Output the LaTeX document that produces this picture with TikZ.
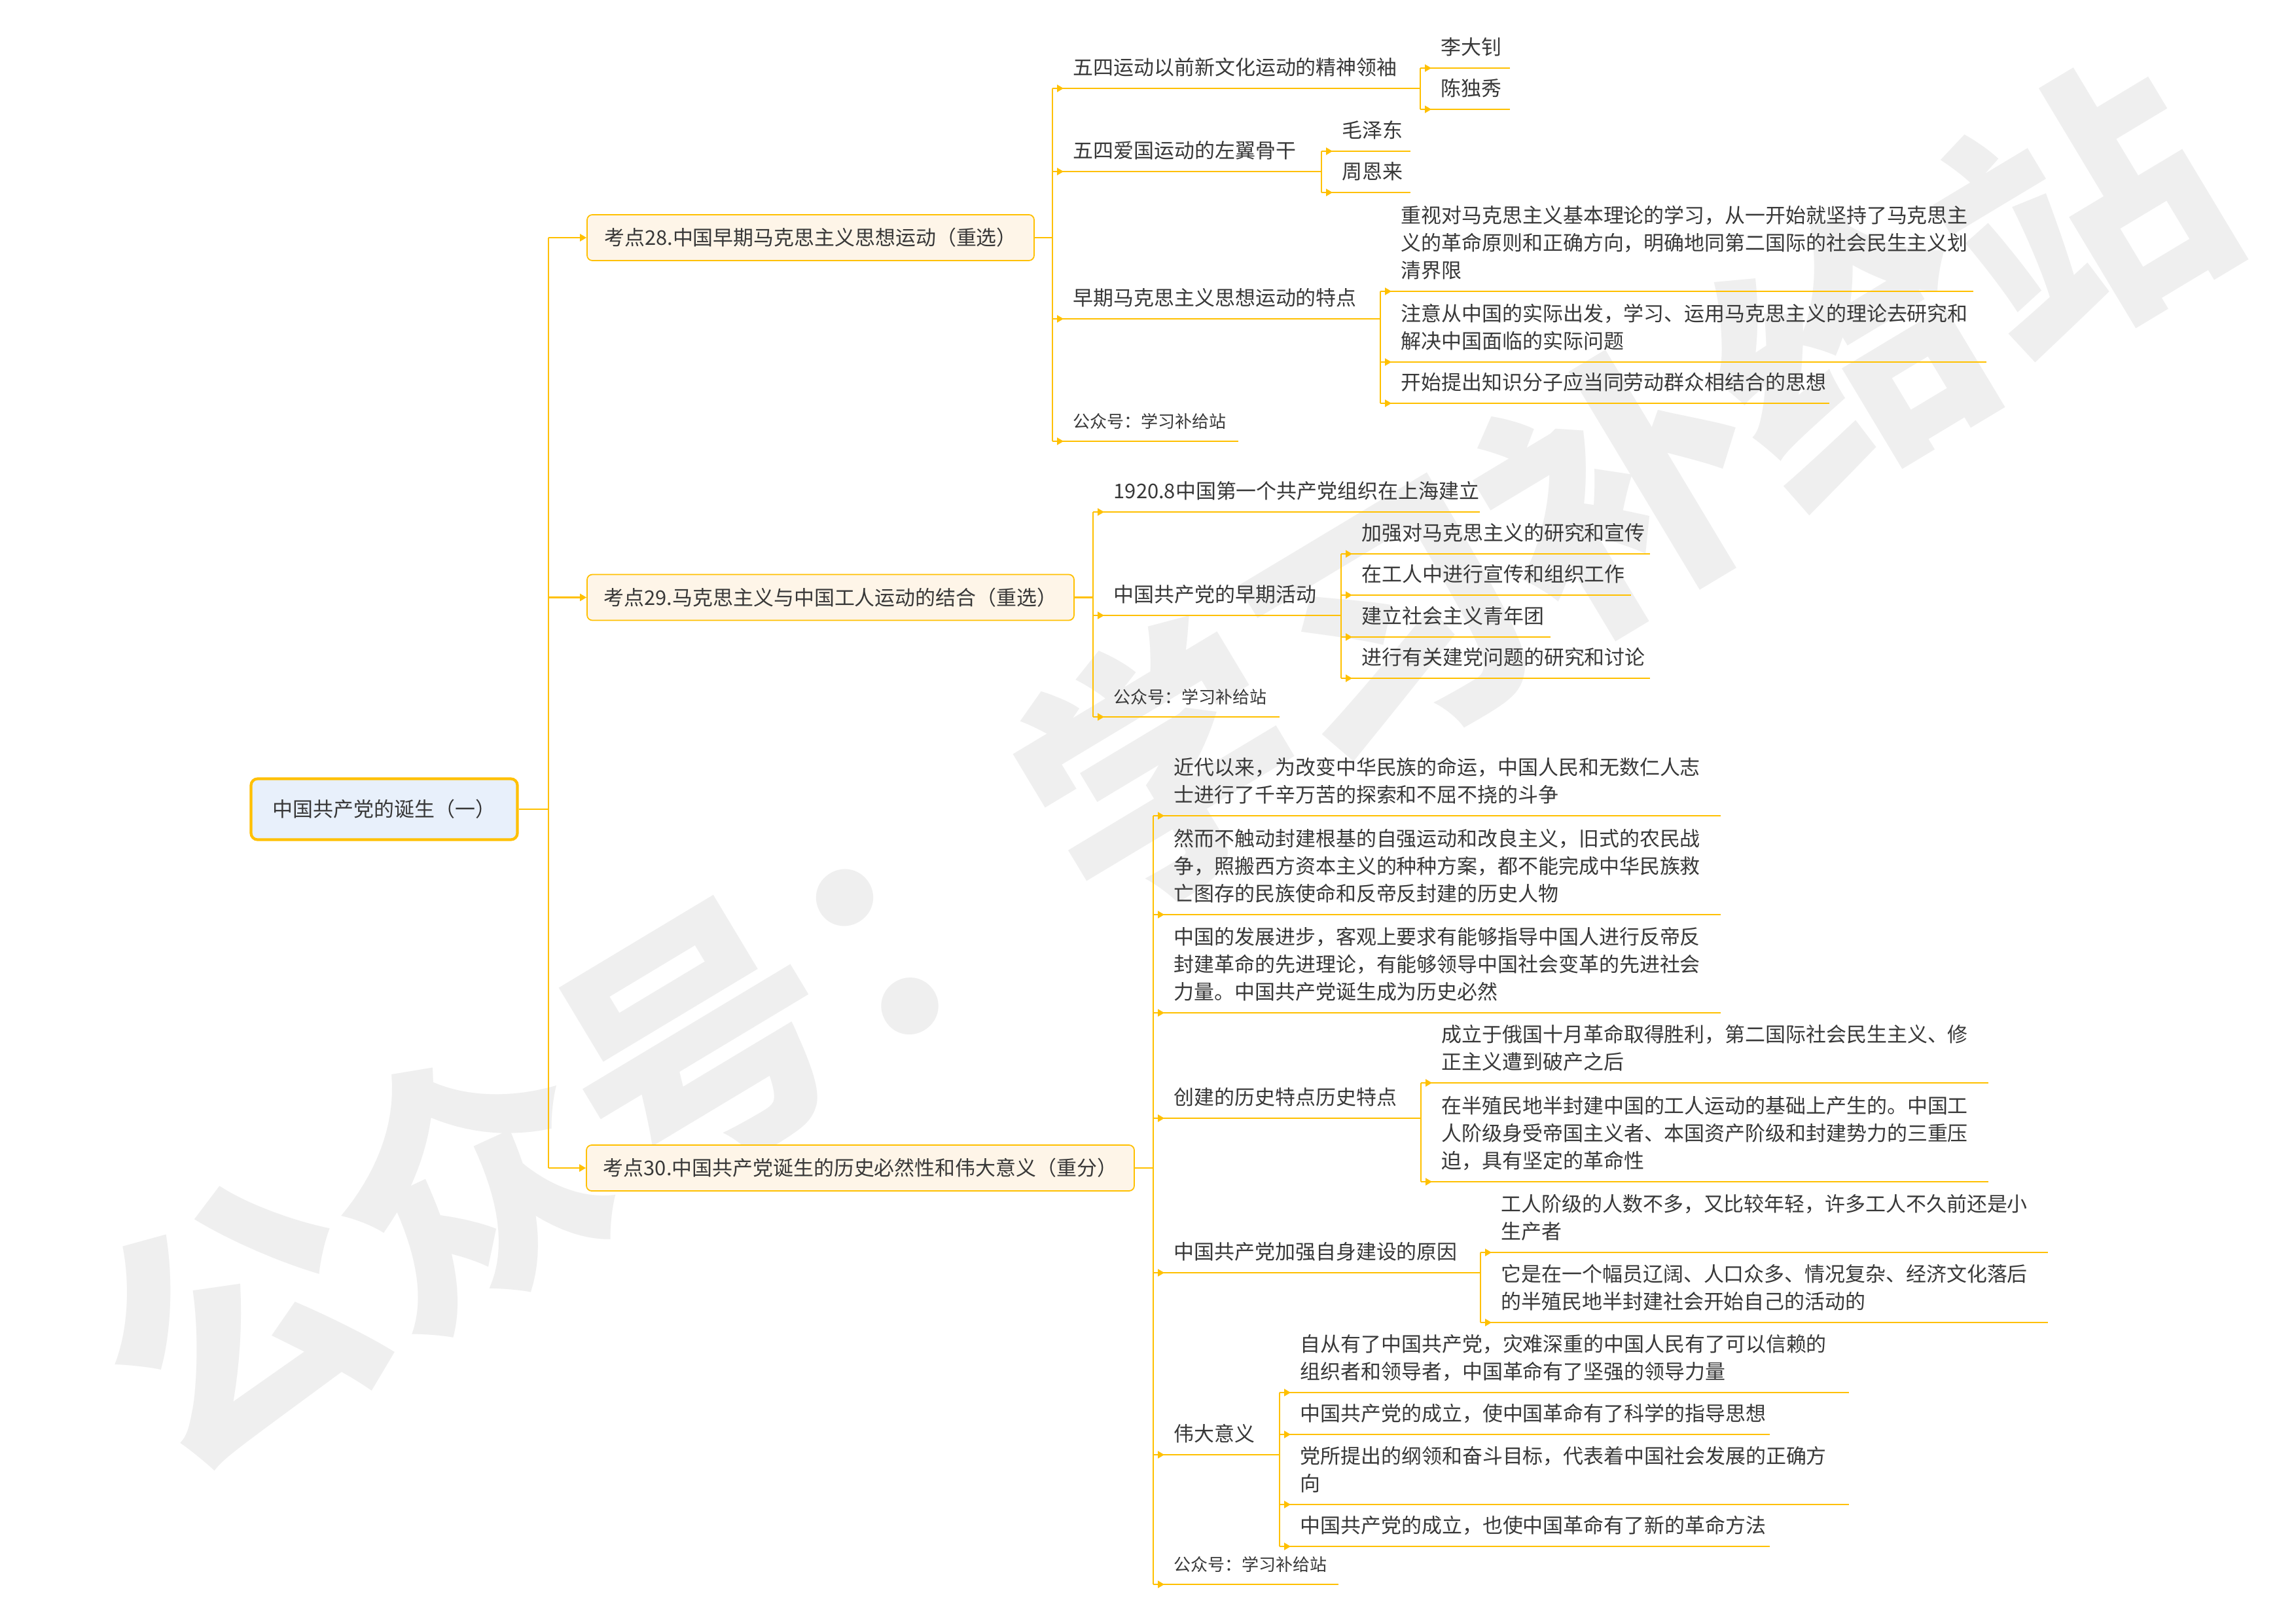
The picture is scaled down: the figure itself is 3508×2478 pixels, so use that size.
\documentclass[tikz,border=0pt]{standalone}
\usepackage{fontspec}
\setmainfont{Noto Sans CJK SC}
\usetikzlibrary{arrows.meta}
\definecolor{ln}{HTML}{FFC000}
\definecolor{tx}{HTML}{383838}
\definecolor{rootfill}{HTML}{E8F0FB}
\definecolor{boxfill}{HTML}{FEF5E8}
\definecolor{wm}{HTML}{EFEFEF}
\newcommand{\bodyfnt}{\fontsize{8.8pt}{11.9pt}\selectfont}
\newcommand{\smallfnt}{\fontsize{7.4pt}{11.9pt}\selectfont}
\newcommand{\uln}[1]{%
  \draw[uline] (#1.south west) -- (#1.south east);
  \draw[tipline] (#1.south west) -- ([xshift=1.7mm]#1.south west);}
\begin{document}
\begin{tikzpicture}[x=0.1mm,y=-0.1mm,
  leaf/.style={anchor=south west, inner xsep=0pt, inner ysep=2.1pt, align=left,
    text width=#1*0.1mm, font=\bodyfnt, text=tx,
    execute at begin node={\leftskip=3.1mm\relax},
    execute at end node={\strut}},
  smallleaf/.style={leaf=#1, font=\smallfnt},
  uline/.style={draw=ln, line width=0.65pt},
  tipline/.style={draw=ln, line width=0.65pt, -{Triangle[length=1mm,width=1.1mm]}},
  kbox/.style={draw=ln, line width=0.5pt, fill=boxfill, rounded corners=0.8mm,
    minimum height=7mm, minimum width=#1*0.1mm, inner sep=0pt, font=\bodyfnt, text=tx},
  rootbox/.style={draw=ln, line width=1.2pt, fill=rootfill, rounded corners=1mm,
    minimum height=9.3mm, minimum width=40.7mm, inner sep=0pt, font=\bodyfnt, text=tx}
]
\fill[white] (0,0) rectangle (3508,2478);
\path[use as bounding box] (0,0) rectangle (3508,2478);

% watermark
\node[font=\fontsize{117pt}{117pt}\selectfont\bfseries, text=wm, rotate=31, inner sep=0pt]
  (wmark) at (1770,1170) {公众号：学习补给站};

% root
\node[rootbox] (root) at (587,1236) {中国共产党的诞生（一）};
\coordinate (t0) at (838,1236);

% level-1 boxes
\node[kbox=683] (B1) at (1238.5,363) {考点28.中国早期马克思主义思想运动（重选）};
\node[kbox=744] (B2) at (1269,912.5) {考点29.马克思主义与中国工人运动的结合（重选）};
\node[kbox=837] (B3) at (1314.5,1784) {考点30.中国共产党诞生的历史必然性和伟大意义（重分）};

\draw[uline] (root.east) -- (t0);
\draw[uline] (t0 |- B1.west) -- (t0 |- B3.west);
\draw[tipline] (t0 |- B1.west) -- (B1.west);
\draw[tipline] (t0 |- B2.west) -- (B2.west);
\draw[tipline] (t0 |- B3.west) -- (B3.west);

% ---------- 考点28 ----------
\node[leaf=562] (a1) at (1608,135) {五四运动以前新文化运动的精神领袖};
\node[leaf=136] (a1a) at (2170,104) {李大钊};
\node[leaf=136] (a1b) at (2170,167) {陈独秀};
\node[leaf=411] (a2) at (1608,262) {五四爱国运动的左翼骨干};
\node[leaf=135] (a2a) at (2019,231) {毛泽东};
\node[leaf=135] (a2b) at (2019,294) {周恩来};
\node[leaf=501] (a3) at (1608,487) {早期马克思主义思想运动的特点};
\node[leaf=905] (a3a) at (2109,445) {重视对马克思主义基本理论的学习，从一开始就坚持了马克思主\\义的革命原则和正确方向，明确地同第二国际的社会民生主义划\\清界限};
\node[leaf=925] (a3b) at (2109,553) {注意从中国的实际出发，学习、运用马克思主义的理论去研究和\\解决中国面临的实际问题};
\node[leaf=685] (a3c) at (2109,616) {开始提出知识分子应当同劳动群众相结合的思想};
\node[smallleaf=283] (a4) at (1608,674) {公众号：学习补给站};

\draw[uline] (B1.east) -- (a1.south west |- B1.east);
\draw[uline] (a1.south west) -- (a4.south west);
\draw[uline] (a1a.south west) -- (a1b.south west);
\draw[uline] (a2a.south west) -- (a2b.south west);
\draw[uline] (a3a.south west) -- (a3c.south west);
\uln{a1}\uln{a1a}\uln{a1b}\uln{a2}\uln{a2a}\uln{a2b}
\uln{a3}\uln{a3a}\uln{a3b}\uln{a3c}\uln{a4}

% ---------- 考点29 ----------
\node[leaf=590] (b1) at (1670,782) {1920.8中国第一个共产党组织在上海建立};
\node[leaf=379] (b2) at (1670,940) {中国共产党的早期活动};
\node[leaf=471] (b2a) at (2049,846) {加强对马克思主义的研究和宣传};
\node[leaf=442] (b2b) at (2049,909) {在工人中进行宣传和组织工作};
\node[leaf=319] (b2c) at (2049,973) {建立社会主义青年团};
\node[leaf=471] (b2d) at (2049,1036) {进行有关建党问题的研究和讨论};
\node[smallleaf=284] (b3) at (1670,1095) {公众号：学习补给站};

\draw[uline] (B2.east) -- (b1.south west |- B2.east);
\draw[uline] (b1.south west) -- (b3.south west);
\draw[uline] (b2a.south west) -- (b2d.south west);
\uln{b1}\uln{b2}\uln{b2a}\uln{b2b}\uln{b2c}\uln{b2d}\uln{b3}

% ---------- 考点30 ----------
\node[leaf=866] (c1) at (1762,1246) {近代以来，为改变中华民族的命运，中国人民和无数仁人志\\士进行了千辛万苦的探索和不屈不挠的斗争};
\node[leaf=866] (c2) at (1762,1397) {然而不触动封建根基的自强运动和改良主义，旧式的农民战\\争，照搬西方资本主义的种种方案，都不能完成中华民族救\\亡图存的民族使命和反帝反封建的历史人物};
\node[leaf=866] (c3) at (1762,1547) {中国的发展进步，客观上要求有能够指导中国人进行反帝反\\封建革命的先进理论，有能够领导中国社会变革的先进社会\\力量。中国共产党诞生成为历史必然};
\node[leaf=409] (c4) at (1762,1708) {创建的历史特点历史特点};
\node[leaf=866] (c4a) at (2171,1654) {成立于俄国十月革命取得胜利，第二国际社会民生主义、修\\正主义遭到破产之后};
\node[leaf=866] (c4b) at (2171,1805) {在半殖民地半封建中国的工人运动的基础上产生的。中国工\\人阶级身受帝国主义者、本国资产阶级和封建势力的三重压\\迫，具有坚定的革命性};
\node[leaf=500] (c5) at (1762,1944) {中国共产党加强自身建设的原因};
\node[leaf=866] (c5a) at (2262,1913) {工人阶级的人数不多，又比较年轻，许多工人不久前还是小\\生产者};
\node[leaf=866] (c5b) at (2262,2020) {它是在一个幅员辽阔、人口众多、情况复杂、经济文化落后\\的半殖民地半封建社会开始自己的活动的};
\node[leaf=193] (c6) at (1762,2222) {伟大意义};
\node[leaf=869] (c6a) at (1955,2127) {自从有了中国共产党，灾难深重的中国人民有了可以信赖的\\组织者和领导者，中国革命有了坚强的领导力量};
\node[leaf=748] (c6b) at (1955,2191) {中国共产党的成立，使中国革命有了科学的指导思想};
\node[leaf=869] (c6c) at (1955,2298) {党所提出的纲领和奋斗目标，代表着中国社会发展的正确方\\向};
\node[leaf=748] (c6d) at (1955,2362) {中国共产党的成立，也使中国革命有了新的革命方法};
\node[smallleaf=282] (c7) at (1762,2420) {公众号：学习补给站};

\draw[uline] (B3.east) -- (c1.south west |- B3.east);
\draw[uline] (c1.south west) -- (c7.south west);
\draw[uline] (c4a.south west) -- (c4b.south west);
\draw[uline] (c5a.south west) -- (c5b.south west);
\draw[uline] (c6a.south west) -- (c6d.south west);
\uln{c1}\uln{c2}\uln{c3}\uln{c4}\uln{c4a}\uln{c4b}\uln{c5}\uln{c5a}\uln{c5b}
\uln{c6}\uln{c6a}\uln{c6b}\uln{c6c}\uln{c6d}\uln{c7}
\end{tikzpicture}
\end{document}
